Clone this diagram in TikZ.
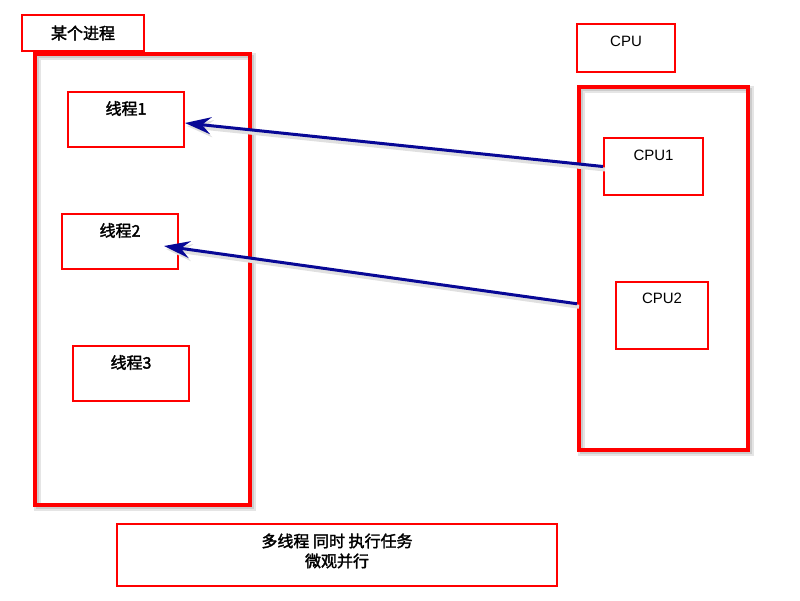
\documentclass[tikz,border=0pt]{standalone}
\usepackage{fontspec}
\setmainfont{Liberation Sans}
\newfontfamily\cjk[FakeBold=2]{Noto Sans CJK SC}
\usetikzlibrary{arrows.meta}
\definecolor{arrowblue}{RGB}{8,8,150}
\begin{document}
\begin{tikzpicture}[x=1pt,y=-1pt,
  sbox/.style={draw=red, line width=2pt, anchor=north west, inner sep=0pt, fill=white},
  bigbox/.style={draw=red, line width=3.5pt, anchor=north west, inner sep=0pt,
    preaction={draw=black!10, line width=7pt, transform canvas={shift={(3pt,-3pt)}}},
    preaction={draw=black!20, line width=3pt, transform canvas={shift={(3pt,-3pt)}}}},
  cjktxt/.style={font=\cjk\fontsize{16}{20}\selectfont},
  lattxt/.style={font=\fontsize{15}{18}\selectfont},
  conn/.style={draw=arrowblue, line width=3pt,
    -{Stealth[length=26pt, width=17pt, inset=9pt]},
    preaction={draw=black!12, line width=4pt, transform canvas={shift={(2pt,-3pt)}}}}
]
\useasboundingbox (0,0) rectangle (800,600);
\fill[white] (0,0) rectangle (800,600);

% process
\node[sbox, minimum width=122, minimum height=36, cjktxt] (plab) at (21,14) {某个进程};
\node[bigbox, minimum width=215, minimum height=451] (proc) at (33,52) {};
\node[sbox, minimum width=116, minimum height=55,
  label={[anchor=center, yshift=-17.5pt, cjktxt]north:线程1}] (t1) at (67,91) {};
\node[sbox, minimum width=116, minimum height=55,
  label={[anchor=center, yshift=-17.5pt, cjktxt]north:线程2}] (t2) at (61,213) {};
\node[sbox, minimum width=116, minimum height=55,
  label={[anchor=center, yshift=-17.5pt, cjktxt]north:线程3}] (t3) at (72,345) {};

% cpu
\node[sbox, minimum width=98, minimum height=48,
  label={[anchor=center, yshift=-18pt, lattxt]north:CPU}] (clab) at (576,23) {};
\node[bigbox, minimum width=169, minimum height=363] (cpu) at (577,85) {};
\node[sbox, minimum width=99, minimum height=57,
  label={[anchor=center, yshift=-18pt, lattxt]north:CPU1}] (c1) at (603,137) {};
\node[sbox, minimum width=92, minimum height=67,
  label={[anchor=center, yshift=-17.5pt, lattxt]north:CPU2}] (c2) at (615,281) {};

% bottom
\node[sbox, minimum width=440, minimum height=62,
  label={[anchor=center, yshift=-28pt, align=center, cjktxt]north:多线程 同时 执行任务\\微观并行}] (note) at (116,523) {};

% connectors
\draw[conn] (c1.west) -- ([yshift=-3.5pt]t1.east);
\draw[conn] ([yshift=-35.5pt]cpu.west) -- ([xshift=-15pt, yshift=-4.5pt]t2.east);
\end{tikzpicture}
\end{document}
